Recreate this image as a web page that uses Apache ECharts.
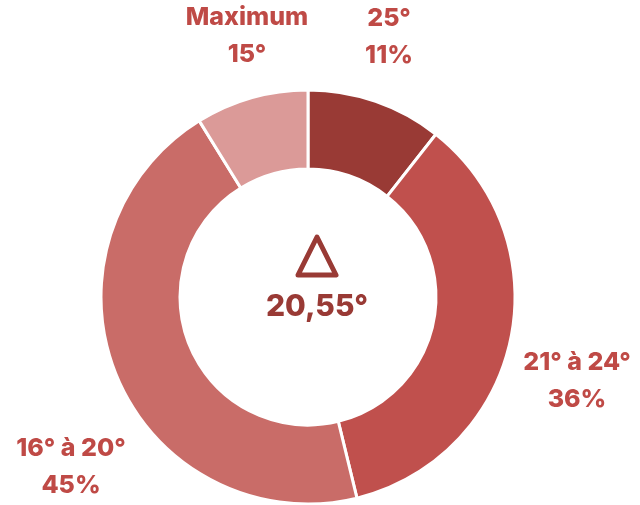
<!DOCTYPE html>
<html><head><meta charset="utf-8">
<script src="https://cdn.jsdelivr.net/npm/echarts@6/dist/echarts.min.js"></script>
<style>html,body{margin:0;padding:0;background:#fff}#c{width:640px;height:505px}</style>
</head><body><div id="c"></div>
<script>
const categories = ['25°', '21° à 24°', '16° à 20°', 'Maximum 15°'];
const values = [10.6, 35.6, 45.0, 8.8];
const labelTitles = ['25°', '21° à 24°', '16° à 20°', 'Maximum'];
const labelSubs = ['11%', '36%', '45%', '15°'];
const centerValue = '20,55°';

const colors = ['#993A35', '#C0504D', '#C96C68', '#DB9A98'];
const labelPos = [[389, 37], [577, 381], [71, 467], [247, 36]];
const FONT = 'Inter, "Open Sans", sans-serif';

const chart = echarts.init(document.getElementById('c'));
chart.setOption({
  animation: false,
  series: [{
    type: 'pie',
    center: [308, 297],
    radius: [128, 207],
    startAngle: 90,
    clockwise: true,
    data: categories.map((n, i) => ({ name: n, value: values[i], itemStyle: { color: colors[i] } })),
    itemStyle: { borderColor: '#fff', borderWidth: 3 },
    label: {
      show: true,
      position: 'outside',
      alignTo: 'none',
      overflow: 'none',
      formatter: p => labelTitles[p.dataIndex] + '\n' + labelSubs[p.dataIndex],
      color: '#BF4A46',
      fontFamily: FONT,
      fontWeight: 800,
      fontSize: 25,
      lineHeight: 37,
      align: 'center'
    },
    labelLine: { show: false },
    labelLayout: p => ({ x: labelPos[p.dataIndex][0], y: labelPos[p.dataIndex][1], align: 'center', verticalAlign: 'middle', width: 200, hideOverlap: false }),
    emphasis: { disabled: true }
  }],
  graphic: [
    {
      type: 'polygon',
      shape: { points: [[317, 237], [336, 275], [298, 275]] },
      style: { fill: 'none', stroke: '#993A35', lineWidth: 5, lineJoin: 'round' }
    },
    {
      type: 'text',
      x: 317, y: 307,
      style: { text: centerValue, fill: '#993A35', font: '800 30px ' + FONT, align: 'center', verticalAlign: 'middle' }
    }
  ]
});
</script></body></html>
